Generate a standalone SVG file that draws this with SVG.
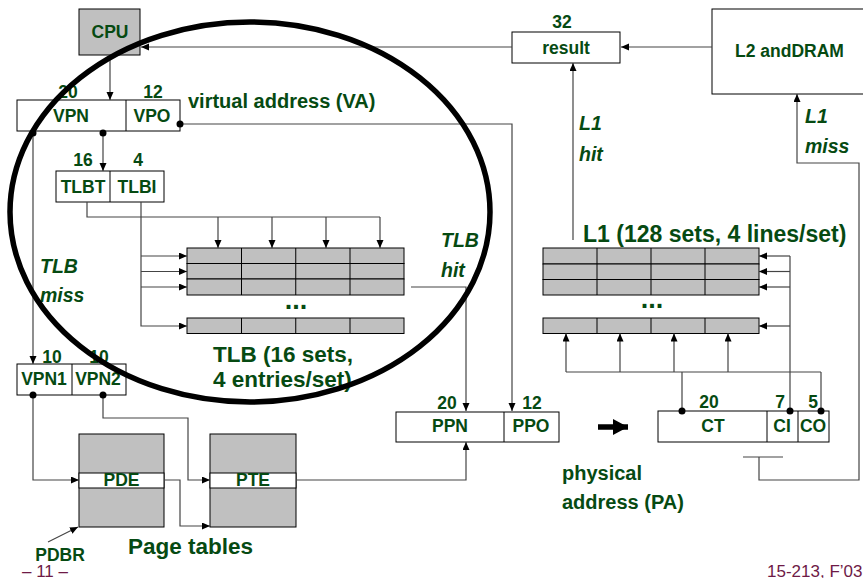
<svg xmlns="http://www.w3.org/2000/svg" width="863" height="578" viewBox="0 0 863 578">
<defs>
<marker id="ah" markerUnits="userSpaceOnUse" markerWidth="9" markerHeight="8" refX="8" refY="3.5" orient="auto">
<path d="M0,0 L8,3.5 L0,7 z" fill="#000"/>
</marker>
<marker id="big" markerUnits="userSpaceOnUse" markerWidth="16" markerHeight="18" refX="15" refY="8" orient="auto">
<path d="M0,0 L15,8 L0,16 z" fill="#000"/>
</marker>
<style>
text{font-family:"Liberation Sans",Arial,sans-serif;font-weight:bold;fill:#064a12}
.s{font-size:17.5px}
.m{font-size:19.5px}
.v{font-size:20px}
.l{font-size:22.5px}
.k{font-size:23px}
.c{text-anchor:middle}
.i{font-style:italic}
.f{font-weight:normal;fill:#6e1a46;font-size:17px}
.b{fill:#fff;stroke:#000;stroke-width:1}
.g{fill:#c0c0c0;stroke:#000;stroke-width:1}
.d{stroke:#000;stroke-width:1}
.w{fill:none;stroke:#444;stroke-width:1.2}
.a{marker-end:url(#ah)}
.dot{fill:#000}
</style>
</defs>
<rect width="863" height="578" fill="#fff"/>

<g id="cpu">
<rect class="g" x="79" y="9" width="61" height="46"/>
<text class="s c" x="110" y="38">CPU</text>
</g>

<g id="va">
<rect class="b" x="17" y="100" width="163" height="31"/>
<line class="d" x1="126" y1="100" x2="126" y2="131"/>
<text class="s c" x="68" y="98">20</text>
<text class="s c" x="153" y="98">12</text>
<text class="s c" x="71" y="122">VPN</text>
<text class="s c" x="152" y="122">VPO</text>
<text class="v" x="188" y="108">virtual address (VA)</text>
</g>

<g id="tlbtag">
<rect class="b" x="56" y="171" width="108" height="31"/>
<line class="d" x1="110" y1="171" x2="110" y2="202"/>
<text class="s c" x="83" y="166">16</text>
<text class="s c" x="138" y="166">4</text>
<text class="s c" x="83" y="193">TLBT</text>
<text class="s c" x="137" y="193">TLBI</text>
</g>

<g id="tlb">
<rect class="g" x="187" y="248" width="217" height="15.5"/>
<rect class="g" x="187" y="263.5" width="217" height="15.5"/>
<rect class="g" x="187" y="279" width="217" height="16"/>
<rect class="g" x="187" y="318" width="217" height="15.5"/>
<path class="d" d="M241.5,248V295M295.75,248V295M350,248V295M241.5,318V333.5M295.75,318V333.5M350,318V333.5"/>
<text class="c" style="font-size:27px" x="296" y="309">...</text>
<text class="l" x="213" y="362">TLB (16 sets,</text>
<text class="l" x="213" y="387">4 entries/set)</text>
<text class="m i" x="40" y="273">TLB</text>
<text class="m i" x="40" y="302">miss</text>
<text class="m i" x="441" y="247">TLB</text>
<text class="m i" x="441" y="277">hit</text>
</g>

<g id="vpn12">
<rect class="b" x="17" y="364" width="109" height="31"/>
<line class="d" x1="72" y1="364" x2="72" y2="395"/>
<text class="s c" x="52" y="363">10</text>
<text class="s c" x="99" y="363">10</text>
<text class="s c" x="44" y="385">VPN1</text>
<text class="s c" x="98" y="385">VPN2</text>
</g>

<g id="pde">
<rect class="g" x="79" y="434" width="85" height="93"/>
<rect class="b" x="79" y="473" width="85" height="15"/>
<text class="s c" x="121.5" y="486">PDE</text>
</g>

<g id="pte">
<rect class="g" x="210" y="434" width="86" height="93"/>
<rect class="b" x="210" y="473" width="86" height="15"/>
<text class="s c" x="253" y="486">PTE</text>
</g>

<g id="pagetables">
<text class="s c" x="60" y="561">PDBR</text>
<text class="l" x="128" y="554">Page tables</text>
</g>

<g id="pa">
<rect class="b" x="396" y="412" width="163" height="30"/>
<line class="d" x1="504" y1="412" x2="504" y2="442"/>
<text class="s c" x="447" y="409">20</text>
<text class="s c" x="532" y="409">12</text>
<text class="s c" x="450" y="432">PPN</text>
<text class="s c" x="531" y="432">PPO</text>
</g>

<g id="result">
<rect class="b" x="512" y="32" width="108" height="31"/>
<text class="s c" x="562" y="28">32</text>
<text class="s c" x="566" y="54">result</text>
<text class="m i" x="579" y="130">L1</text>
<text class="m i" x="579" y="161">hit</text>
</g>

<g id="l2">
<rect class="b" x="712" y="9" width="170" height="85"/>
<text class="s" x="735" y="57">L2 andDRAM</text>
<text class="m i" x="805" y="123">L1</text>
<text class="m i" x="805" y="153">miss</text>
</g>

<g id="l1">
<rect class="g" x="543" y="248" width="216" height="16"/>
<rect class="g" x="543" y="264" width="216" height="15.5"/>
<rect class="g" x="543" y="279.5" width="216" height="15.5"/>
<rect class="g" x="543" y="318" width="216" height="15.5"/>
<path class="d" d="M597,248V295M651,248V295M705,248V295M597,318V333.5M651,318V333.5M705,318V333.5"/>
<text class="c" style="font-size:27px" x="652" y="308">...</text>
<text class="k" x="583" y="242">L1 (128 sets, 4 lines/set)</text>
</g>

<g id="cache-addr">
<rect class="b" x="658" y="411" width="171" height="31"/>
<path class="d" d="M767,411V442M798,411V442"/>
<text class="s c" x="709" y="408">20</text>
<text class="s c" x="780" y="408">7</text>
<text class="s c" x="813" y="408">5</text>
<text class="s c" x="713" y="432">CT</text>
<text class="s c" x="782" y="432">CI</text>
<text class="s c" x="813" y="432">CO</text>
<text class="v" x="562" y="480">physical</text>
<text class="v" x="562" y="509">address (PA)</text>
</g>

<g id="connectors">
<path class="w a" d="M512,47H141"/>
<path class="w a" d="M712,47H621"/>
<path class="w a" d="M110,55V100"/>
<path class="w a" d="M180,124H512V411"/>
<path class="w a" d="M103,133V171"/>
<path class="w a" d="M33,133V364"/>
<path class="w" d="M87,202V217H380"/>
<path class="w a" d="M218,217V248"/>
<path class="w a" d="M272,217V248"/>
<path class="w a" d="M326,217V248"/>
<path class="w a" d="M380,217V248"/>
<path class="w a" d="M141,202V326H187"/>
<path class="w a" d="M141,256H187"/>
<path class="w a" d="M141,271.5H187"/>
<path class="w a" d="M141,287H187"/>
<path class="w a" d="M411,287H466V411"/>
<path class="w a" d="M33,395V480H79"/>
<path class="w a" d="M103,395V418H188V480H210"/>
<path class="w a" d="M164,480H180V526H210"/>
<path class="w a" d="M296,480H466V442"/>
<path class="w a" d="M48,542L78,527"/>
<path class="w a" d="M573,240V63"/>
<path class="w a" d="M759,457V480H859V163H797V94"/>
<path class="w" d="M743,457H783"/>
<path class="w" d="M790,411V256"/>
<path class="w a" d="M790,256H759"/>
<path class="w a" d="M790,271.5H759"/>
<path class="w a" d="M790,287H759"/>
<path class="w a" d="M790,326H759"/>
<path class="w" d="M682,411V372M821,411V372M566,372H821"/>
<path class="w a" d="M566,372V333.5"/>
<path class="w a" d="M620,372V333.5"/>
<path class="w a" d="M674,372V333.5"/>
<path class="w a" d="M728,372V333.5"/>
<path d="M598,427H628" stroke="#000" stroke-width="5.5" marker-end="url(#big)"/>
<circle class="dot" cx="180" cy="124" r="3.5"/>
<circle class="dot" cx="103" cy="133" r="3.5"/>
<circle class="dot" cx="33" cy="133" r="3.5"/>
<circle class="dot" cx="33" cy="395" r="3.5"/>
<circle class="dot" cx="103" cy="395" r="3.5"/>
<circle class="dot" cx="682" cy="411" r="3.5"/>
<circle class="dot" cx="790" cy="411" r="3.5"/>
<circle class="dot" cx="821" cy="411" r="3.5"/>
</g>

<g id="tlb-ellipse">
<ellipse cx="250" cy="212" rx="240" ry="190" fill="none" stroke="#000" stroke-width="5.5"/>
</g>

<g id="footer">
<text class="f" x="22" y="577">– 11 –</text>
<text class="f" x="767" y="577">15-213, F’03</text>
</g>
</svg>
